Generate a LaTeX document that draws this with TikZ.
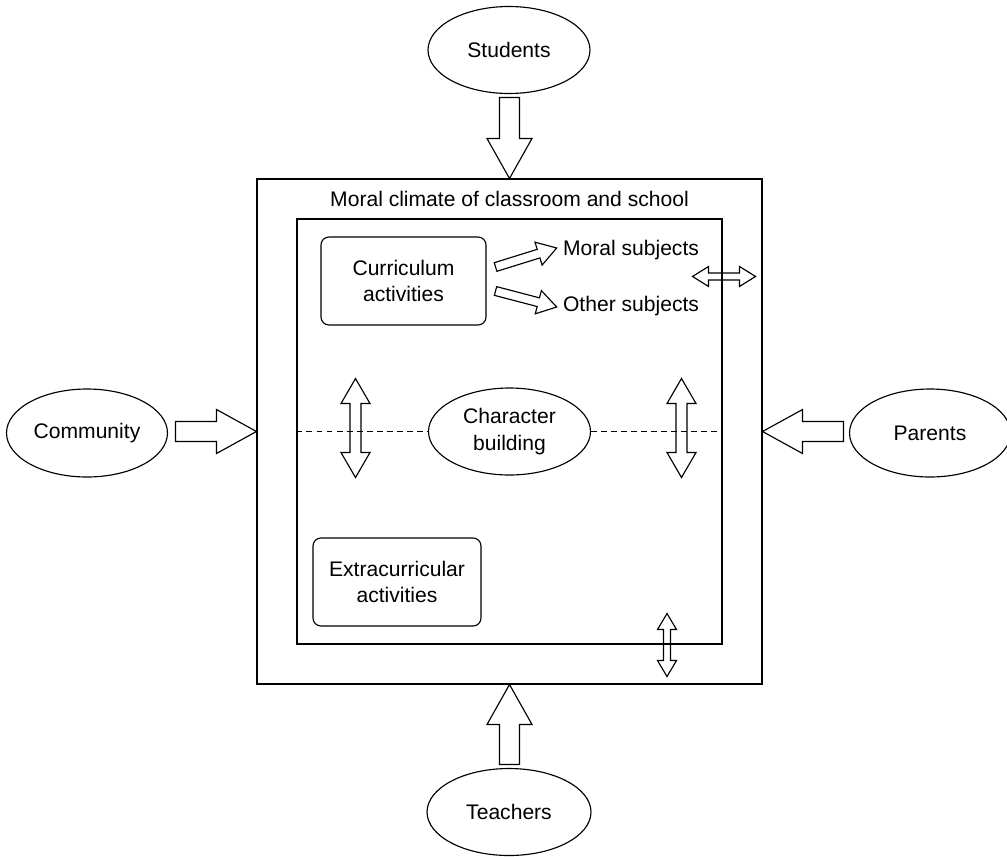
\documentclass[tikz,border=0pt]{standalone}
\usepackage{fontspec}
\setmainfont{Liberation Sans}
\usetikzlibrary{shapes.geometric, calc, positioning}
\newcommand{\labelfont}{\fontsize{12pt}{15pt}\selectfont}
% hollow block arrow: from, to, shaft half width, head half width, head length
\newcommand{\blockarrow}[5]{%
  \path (#1) coordinate (ba-a) (#2) coordinate (ba-b);
  \path ($(ba-b)!#5!(ba-a)$) coordinate (ba-h);
  \draw[blockline] ($(ba-a)!#3!90:(ba-b)$) -- ($(ba-h)!#3!90:(ba-b)$) -- ($(ba-h)!#4!90:(ba-b)$)
    -- (ba-b) -- ($(ba-h)!#4!-90:(ba-b)$) -- ($(ba-h)!#3!-90:(ba-b)$) -- ($(ba-a)!#3!-90:(ba-b)$) -- cycle;
}
% hollow two-way block arrow, same arguments
\newcommand{\twowayarrow}[5]{%
  \path (#1) coordinate (da-a) (#2) coordinate (da-b);
  \path ($(da-a)!#5!(da-b)$) coordinate (da-p) ($(da-b)!#5!(da-a)$) coordinate (da-q);
  \draw[blockline] (da-a) -- ($(da-p)!#4!90:(da-b)$) -- ($(da-p)!#3!90:(da-b)$)
    -- ($(da-q)!#3!90:(da-b)$) -- ($(da-q)!#4!90:(da-b)$) -- (da-b)
    -- ($(da-q)!#4!-90:(da-b)$) -- ($(da-q)!#3!-90:(da-b)$)
    -- ($(da-p)!#3!-90:(da-b)$) -- ($(da-p)!#4!-90:(da-b)$) -- cycle;
}
\tikzset{
    bubble/.style={ellipse, draw, line width=0.65pt, minimum width=3.24cm, minimum height=1.74cm,
                   inner sep=0pt, align=center, font=\labelfont},
    actbox/.style={rectangle, rounded corners=4.5pt, draw, line width=0.65pt, minimum width=3.3cm,
                   minimum height=1.76cm, inner sep=0pt, align=center, font=\labelfont},
    frame/.style={rectangle, draw, line width=0.65pt, inner sep=0pt},
    plain/.style={inner sep=0pt, font=\labelfont},
    blockline/.style={line width=0.65pt, line join=miter},
    divider/.style={line width=0.6pt, dash pattern=on 3.4pt off 2.3pt},
}
\begin{document}
\begin{tikzpicture}[x=0.02cm, y=-0.02cm]
    \useasboundingbox (0,0) rectangle (1007,856);

    % frames
    \node[frame, minimum width=10.1cm, minimum height=10.1cm] (climate) at (509.5,431.5) {};
    \node[frame, minimum width=8.5cm, minimum height=8.5cm] (school) at (509.5,431.5) {};
    \node[plain] (title) at ($(climate.north)+(0,20)$) {Moral climate of classroom and school};

    % outside influences
    \node[bubble] (students) at (509,50) {Students};
    \node[bubble, minimum width=3.28cm] (teachers) at (509,812) {Teachers};
    \node[bubble, minimum width=3.22cm, minimum height=1.76cm] (community) at (87,433) {Community};
    \node[bubble, minimum width=3.22cm, minimum height=1.76cm] (parents) at (930,433) {Parents};

    % inside the school
    \node[actbox] (curriculum) at (403.5,281) {Curriculum\\activities};
    \node[actbox, minimum width=3.36cm] (extra) at (397,582) {Extracurricular\\activities};
    \node[bubble] (character) at (509.5,431.5) {Character\\building};
    \node[plain] (moral) at (631,250) {Moral subjects};
    \node[plain] (other) at (631,306) {Other subjects};

    \draw[divider] (school.west) -- (character.west);
    \draw[divider] (character.east) -- (school.east);

    % big arrows into the school climate
    \blockarrow{$(climate.north)+(0,-81)$}{climate.north}{0.2cm}{0.45cm}{0.8cm}
    \blockarrow{$(climate.south)+(0,80)$}{climate.south}{0.2cm}{0.45cm}{0.8cm}
    \blockarrow{$(climate.west)+(-81,0)$}{climate.west}{0.2cm}{0.44cm}{0.8cm}
    \blockarrow{$(climate.east)+(81,0)$}{climate.east}{0.2cm}{0.44cm}{0.8cm}

    % curriculum to subjects
    \blockarrow{$(curriculum.east)+(9,-14)$}{$(moral.west)+(-6,-2)$}{0.09cm}{0.24cm}{0.38cm}
    \blockarrow{$(curriculum.east)+(9,10)$}{$(other.west)+(-6,1)$}{0.09cm}{0.24cm}{0.38cm}

    % two-way exchanges
    \twowayarrow{$(school.north east)+(-30,58)$}{$(school.north east)+(33,58)$}{0.07cm}{0.2cm}{0.32cm}
    \twowayarrow{$(character.center)+(-154,-53)$}{$(character.center)+(-154,46)$}{0.11cm}{0.29cm}{0.5cm}
    \twowayarrow{$(character.center)+(172,-53)$}{$(character.center)+(172,46)$}{0.11cm}{0.29cm}{0.5cm}
    \twowayarrow{$(school.south)+(157.5,-31)$}{$(school.south)+(157.5,32)$}{0.07cm}{0.19cm}{0.32cm}
\end{tikzpicture}
\end{document}
